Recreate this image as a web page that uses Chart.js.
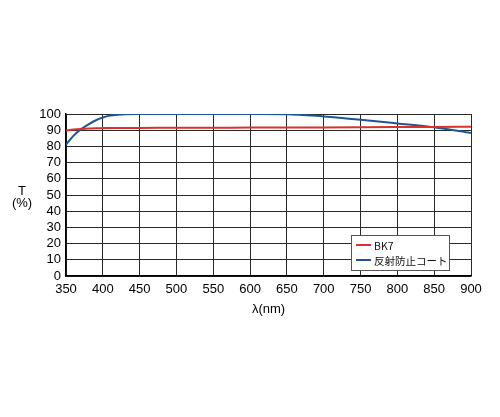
<!DOCTYPE html>
<html>
<head>
<meta charset="utf-8">
<script src="https://cdn.jsdelivr.net/npm/chart.js@4"></script>
<style>
  html, body { margin: 0; padding: 0; background: #fff; }
  #wrap { width: 500px; height: 417px; }
</style>
</head>
<body>
<div id="wrap"><canvas id="chart" width="500" height="417"></canvas></div>
<script>
const wavelengths = [350, 360, 370, 380, 390, 400, 410, 420, 430, 450, 500, 550, 600, 650, 700, 750, 800, 850, 900]
const bk7Values = [89.8, 90.4, 90.8, 91.0, 91.2, 91.3, 91.4, 91.4, 91.4, 91.4, 91.5, 91.5, 91.6, 91.6, 91.7, 91.8, 91.9, 92.0, 92.2]
const arValues = [81, 86.5, 90.5, 93.5, 96, 97.8, 99, 99.6, 99.9, 100, 100, 100, 100, 99.9, 98.5, 96.5, 94.2, 91.8, 88.3]
const seriesLabels = ['BK7', '反射防止コート']
const seriesColors = ['#d8322c', '#1e5694']

const font = "'Liberation Sans', Arial, sans-serif"
const legendFont = "'Noto Sans CJK JP', 'Liberation Sans', sans-serif"

const toPoints = (values) => wavelengths.map((w, i) => ({ x: w, y: values[i] }))

// legend box inside the plot + the "T (%)" label
const extras = {
    id: 'extras',
    afterDraw(chart) {
        const ctx = chart.ctx
        const area = chart.chartArea
        ctx.save()
        ctx.fillStyle = '#000'
        ctx.font = '13px ' + font
        ctx.textAlign = 'center'
        ctx.textBaseline = 'middle'
        ctx.fillText('T', 22, 191)
        ctx.fillText('(%)', 22, 203)

        const w = 98, h = 35
        const x = area.right - 22 - w, y = area.bottom - 6 - h
        ctx.fillStyle = '#fff'
        ctx.fillRect(x, y, w, h)
        ctx.strokeStyle = '#555'
        ctx.lineWidth = 1
        ctx.strokeRect(x + 0.5, y + 0.5, w, h)
        ctx.textAlign = 'left'
        ctx.font = '10.5px ' + legendFont
        chart.data.datasets.forEach((ds, i) => {
            const ly = y + 10 + i * 15
            ctx.strokeStyle = ds.borderColor
            ctx.lineWidth = 2
            ctx.beginPath()
            ctx.moveTo(x + 5, ly)
            ctx.lineTo(x + 20, ly)
            ctx.stroke()
            ctx.fillStyle = '#111'
            ctx.fillText(ds.label, x + 23, ly + 1)
        })
        ctx.restore()
    }
}

new Chart(document.getElementById('chart'), {
    type: 'line',
    data: {
        datasets: [
            {
                label: seriesLabels[0],
                data: toPoints(bk7Values),
                borderColor: seriesColors[0],
                borderWidth: 2,
                pointRadius: 0,
                cubicInterpolationMode: 'monotone'
            },
            {
                label: seriesLabels[1],
                data: toPoints(arValues),
                borderColor: seriesColors[1],
                borderWidth: 2,
                pointRadius: 0,
                cubicInterpolationMode: 'monotone'
            }
        ]
    },
    options: {
        responsive: false,
        animation: false,
        layout: { padding: { top: 114, right: 29, bottom: 100, left: 0 } },
        plugins: { legend: { display: false }, tooltip: { enabled: false } },
        scales: {
            x: {
                type: 'linear',
                min: 350,
                max: 900,
                afterFit: (s) => { s.height = 41 },
                ticks: { stepSize: 50, autoSkip: false, color: '#000', padding: 6, maxRotation: 0, font: { family: font, size: 13 } },
                grid: { color: '#2a2a2a', lineWidth: 1, drawTicks: false },
                border: { color: '#000', width: 1.5 },
                title: { display: true, text: 'λ(nm)', color: '#000', padding: 0, font: { family: font, size: 13 } }
            },
            y: {
                min: 0,
                max: 100,
                afterFit: (s) => { s.width = 66 },
                ticks: { stepSize: 10, autoSkip: false, color: '#000', padding: 5, font: { family: font, size: 13 } },
                grid: { color: '#2a2a2a', lineWidth: 1, drawTicks: false },
                border: { color: '#000', width: 1.5 }
            }
        }
    },
    plugins: [extras]
})
</script>
</body>
</html>
